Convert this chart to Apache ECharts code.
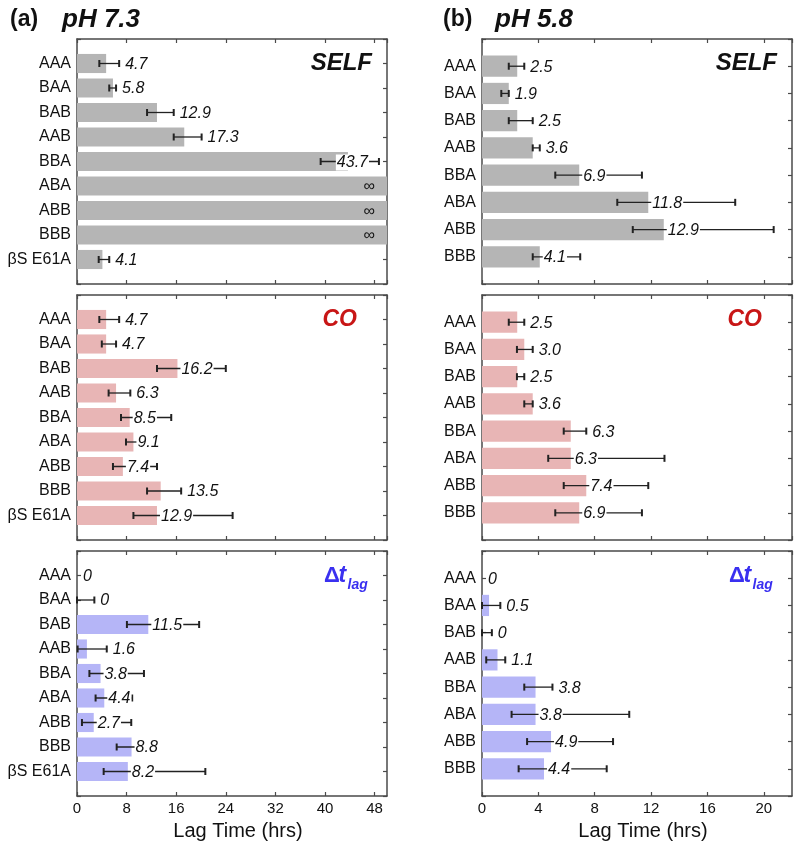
<!DOCTYPE html>
<html><head><meta charset="utf-8">
<script src="https://cdn.jsdelivr.net/npm/echarts@6/dist/echarts.min.js"></script>
<style>html,body{margin:0;padding:0;background:#fff}#c{width:800px;height:850px}</style>
</head><body><div id="c"></div>
<script>
// ---------- data ----------
const catsA = ['AAA','BAA','BAB','AAB','BBA','ABA','ABB','BBB','βS E61A'];
const catsB = ['AAA','BAA','BAB','AAB','BBA','ABA','ABB','BBB'];

// (a) pH 7.3
const selfA    = [4.7, 5.8, 12.9, 17.3, 43.7, Infinity, Infinity, Infinity, 4.1];
const selfA_lo = [3.6, 5.2, 11.3, 15.6, 39.3, null, null, null, 3.5];
const selfA_hi = [6.8, 6.3, 15.6, 20.1, 48.7, null, null, null, 5.2];

const coA    = [4.7, 4.7, 16.2, 6.3, 8.5, 9.1, 7.4, 13.5, 12.9];
const coA_lo = [3.6, 4.0, 12.9, 5.1, 7.1, 7.9, 5.8, 11.3, 9.1];
const coA_hi = [6.8, 6.3, 24.0, 8.6, 15.2, 12.9, 12.9, 16.8, 25.1];

const dA    = [0, 0, 11.5, 1.6, 3.8, 4.4, 2.7, 8.8, 8.2];
const dA_lo = [null, 0, 8.05, 0.1, 2.0, 3.0, 0.8, 6.4, 4.3];
const dA_hi = [null, 2.8, 19.7, 4.8, 10.8, 8.9, 8.75, 12.9, 20.7];

// (b) pH 5.8
const selfB    = [2.5, 1.9, 2.5, 3.6, 6.9, 11.8, 12.9, 4.1];
const selfB_lo = [1.9, 1.37, 1.9, 3.6, 5.2, 9.6, 10.7, 3.6];
const selfB_hi = [3.0, 1.9, 3.6, 4.1, 11.35, 17.97, 20.7, 6.97];

const coB    = [2.5, 3.0, 2.5, 3.6, 6.3, 6.3, 7.4, 6.9];
const coB_lo = [1.9, 2.48, 2.48, 3.0, 5.8, 4.7, 5.8, 5.2];
const coB_hi = [3.0, 3.6, 3.0, 3.6, 7.4, 12.95, 11.8, 11.35];

const dB    = [0, 0.5, 0, 1.1, 3.8, 3.8, 4.9, 4.4];
const dB_lo = [null, 0, 0, 0.3, 3.0, 2.1, 3.2, 2.6];
const dB_hi = [null, 1.3, 0.7, 1.65, 5.0, 10.45, 9.3, 8.85];

const ticksA = { max: 50, interval: 8 };
const ticksB = { max: 22, interval: 4 };

// ---------- styles ----------
const FONT = "'Liberation Sans', Arial, Helvetica, sans-serif";
const AX = '#4a4a4a', TXT = '#111';
const GRAY = '#b5b5b5', PINK = '#e8b5b5', PURP = '#b5b5f7';
const colX = [77, 482], gridW = 310, tops = [39, 295, 551], gridH = 245;

const panels = [
  {col:0,row:0,cats:catsA,vals:selfA,lo:selfA_lo,hi:selfA_hi,color:GRAY,ax:ticksA},
  {col:0,row:1,cats:catsA,vals:coA,lo:coA_lo,hi:coA_hi,color:PINK,ax:ticksA},
  {col:0,row:2,cats:catsA,vals:dA,lo:dA_lo,hi:dA_hi,color:PURP,ax:ticksA},
  {col:1,row:0,cats:catsB,vals:selfB,lo:selfB_lo,hi:selfB_hi,color:GRAY,ax:ticksB},
  {col:1,row:1,cats:catsB,vals:coB,lo:coB_lo,hi:coB_hi,color:PINK,ax:ticksB},
  {col:1,row:2,cats:catsB,vals:dB,lo:dB_lo,hi:dB_hi,color:PURP,ax:ticksB}
];

const mctx = document.createElement('canvas').getContext('2d');
function textW(t, font){ mctx.font = font; return mctx.measureText(t).width; }
const LBL_FONT = 'italic 16px ' + FONT;

const grid = [], xAxis = [], yAxis = [], series = [];
panels.forEach((p, k) => {
  grid.push({left: colX[p.col], top: tops[p.row], width: gridW, height: gridH, show:false});
  const lineS = {show:true, onZero:false, lineStyle:{color:AX, width:1.5}};
  const tickS = {show:true, inside:true, length:4, lineStyle:{color:AX, width:1.2}};
  const bottom = p.row === 2;
  xAxis.push({
    gridIndex:k, type:'value', position:'bottom', min:0, max:p.ax.max, interval:p.ax.interval,
    axisLine:lineS, axisTick:tickS, splitLine:{show:false},
    axisLabel:{show:bottom, fontSize:15, color:TXT, fontFamily:FONT, margin:5, showMaxLabel:false,
      formatter: v => (v % p.ax.interval === 0 ? String(v) : '')},
    name: bottom ? 'Lag Time (hrs)' : '', nameLocation:'middle', nameGap:25,
    nameTextStyle:{fontSize:20, color:TXT, fontFamily:FONT, padding:[0,0,0,12]}
  });
  xAxis.push({
    gridIndex:k, type:'value', position:'top', min:0, max:p.ax.max, interval:p.ax.interval,
    axisLine:lineS, axisTick:tickS, splitLine:{show:false}, axisLabel:{show:false}
  });
  const n = p.cats.length;
  yAxis.push({
    gridIndex:k, type:'value', inverse:true, position:'left', min:-1, max:n, interval:1,
    axisLine:lineS, axisTick:tickS, splitLine:{show:false},
    axisLabel:{fontSize:16, color:TXT, fontFamily:FONT, margin:6,
      formatter: v => (p.cats[v] !== undefined ? p.cats[v] : '')}
  });
  yAxis.push({
    gridIndex:k, type:'value', inverse:true, position:'right', min:-1, max:n, interval:1,
    axisLine:lineS, axisTick:tickS, splitLine:{show:false}, axisLabel:{show:false}
  });
  series.push({
    type:'custom', xAxisIndex:2*k, yAxisIndex:2*k, clip:false,
    data: p.cats.map((c, i) => [i, i]),
    renderItem: (params, api) => {
      const i = params.dataIndex;
      const v = p.vals[i];
      const inf = !isFinite(v);
      const cs = params.coordSys;
      const plotRight = cs.x + cs.width;
      const c0 = api.coord([0, i]);
      const c1 = api.coord([inf ? p.ax.max : v, i]);
      const band = Math.abs(api.size([0, 1])[1]);
      const h = band * 0.78;
      const y = c0[1];
      const ch = [];
      if (c1[0] - c0[0] > 0.01) {
        ch.push({type:'rect', shape:{x:c0[0], y:y - h/2, width:c1[0]-c0[0], height:h},
          style:{fill:p.color}});
      }
      let errEnd = c1[0];
      if (p.lo[i] != null) {
        const a = api.coord([p.lo[i], i])[0], b = api.coord([p.hi[i], i])[0];
        errEnd = b;
        ch.push({type:'line', shape:{x1:a, y1:y, x2:b, y2:y}, style:{stroke:'#222', lineWidth:1.3}});
        ch.push({type:'line', shape:{x1:a, y1:y-3.5, x2:a, y2:y+3.5}, style:{stroke:'#222', lineWidth:2}});
        ch.push({type:'line', shape:{x1:b, y1:y-3.5, x2:b, y2:y+3.5}, style:{stroke:'#222', lineWidth:2}});
      }
      if (inf) {
        ch.push({type:'text', style:{text:'∞', x:plotRight - 12, y:y + 1, align:'right', verticalAlign:'middle',
          font:'16px ' + FONT, fill:TXT}});
      } else {
        const txt = v === 0 ? '0' : v.toFixed(1);
        const w = textW(txt, LBL_FONT);
        let lx;
        if (errEnd - c1[0] < 22) lx = errEnd + 5;
        else lx = c1[0] + 3;
        if (lx + w > plotRight - 20) lx = plotRight - 20 - w;
        ch.push({type:'text', style:{text:txt, x:lx, y:y + 1, align:'left', verticalAlign:'middle',
          font:LBL_FONT, fill:TXT, backgroundColor:'#fff', padding:[0,1]}});
      }
      return {type:'group', children:ch};
    }
  });
});

// ---------- annotations ----------
const graphic = [];
const titleFont = 'bold 23px ' + FONT, titleFontI = 'italic bold 26px ' + FONT;
graphic.push({type:'text', x:10, y:20, style:{text:'(a)', font:titleFont, fill:TXT, verticalAlign:'middle'}});
graphic.push({type:'text', x:62, y:20, style:{text:'pH 7.3', font:titleFontI, fill:TXT, verticalAlign:'middle'}});
graphic.push({type:'text', x:443, y:20, style:{text:'(b)', font:titleFont, fill:TXT, verticalAlign:'middle'}});
graphic.push({type:'text', x:495, y:20, style:{text:'pH 5.8', font:titleFontI, fill:TXT, verticalAlign:'middle'}});
[0, 1].forEach(col => {
  const pr = colX[col] + gridW;
  graphic.push({type:'text', x:pr - 15, y:63, style:{text:'SELF', font:'italic bold 24px ' + FONT,
    fill:TXT, align:'right', verticalAlign:'middle'}});
  graphic.push({type:'text', x:pr - 30, y:320, style:{text:'CO', font:'italic bold 23px ' + FONT,
    fill:'#c81616', align:'right', verticalAlign:'middle'}});
  const dx = pr - 63;
  const blue = '#3a30f0';
  graphic.push({type:'text', x:dx, y:576, style:{text:'Δ', font:'bold 22px ' + FONT, fill:blue, verticalAlign:'middle'}});
  graphic.push({type:'text', x:dx + 14.5, y:576, style:{text:'t', font:'italic bold 23px ' + FONT, fill:blue, verticalAlign:'middle'}});
  graphic.push({type:'text', x:dx + 23.5, y:585, style:{text:'lag', font:'italic bold 14px ' + FONT, fill:blue, verticalAlign:'middle'}});
});

const chart = echarts.init(document.getElementById('c'), null, {renderer:'canvas'});
chart.setOption({
  animation:false, backgroundColor:'#fff',
  textStyle:{fontFamily:FONT},
  grid, xAxis, yAxis, series, graphic
});
</script>
</body></html>
